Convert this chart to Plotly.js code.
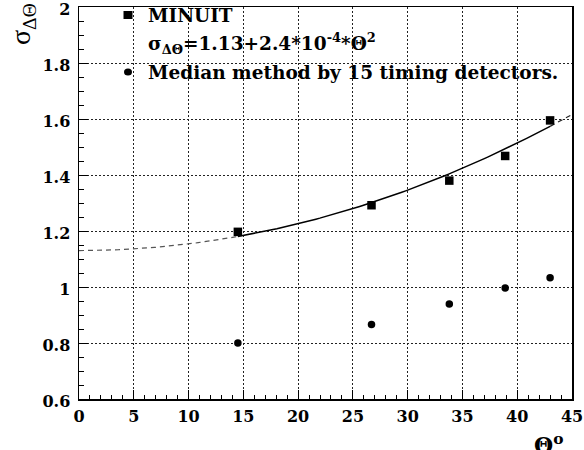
<!DOCTYPE html>
<html>
<head>
<meta charset="utf-8">
<script src="https://cdn.plot.ly/plotly-3.0.1.min.js"></script>
<style>html,body{margin:0;padding:0;background:#fff;}#chart{width:584px;height:450px;}</style>
</head>
<body>
<div id="chart"></div>
<script>
// ---- data ----
const thetaDeg     = [14.5, 26.7, 33.8, 38.9, 43.0];
const sigmaMinuit  = [1.197, 1.292, 1.380, 1.468, 1.595];
const sigmaMedian  = [0.800, 0.866, 0.939, 0.996, 1.033];
// fit shown in legend: sigma = p0 + p1*theta^2, solid over fitted range
const fitParams    = [1.13, 2.4e-4];
const fitRange     = [14.5, 43.0];
const xRange       = [0, 45];
const yRange       = [0.6, 2.0];
const xTickVals    = [0, 5, 10, 15, 20, 25, 30, 35, 40, 45];
const xTickText    = ['0','5','10','15','20','25','30','35','40','45'];
const yTickVals    = [0.6, 0.8, 1.0, 1.2, 1.4, 1.6, 1.8, 2.0];
const yTickText    = ['0.6','0.8','1','1.2','1.4','1.6','1.8','2'];
const legendLabels = ['MINUIT',
  'σ<sub>ΔΘ</sub>=1.13+2.4*10<sup>-4</sup>*Θ<sup>2</sup>',
  'Median method by 15 timing detectors.'];

function fitCurve(a, b, n) {
  const xs = [], ys = [];
  for (let i = 0; i <= n; i++) {
    const x = a + (b - a) * i / n;
    xs.push(x);
    ys.push(fitParams[0] + fitParams[1] * x * x);
  }
  return {xs, ys};
}
const fL = fitCurve(xRange[0], fitRange[0], 40);
const fM = fitCurve(fitRange[0], fitRange[1], 80);
const fR = fitCurve(fitRange[1], xRange[1], 10);

const traces = [
  {x: fL.xs, y: fL.ys, mode: 'lines', line: {color: '#555', width: 1.2, dash: '5px,4px'}, showlegend: false, hoverinfo: 'skip'},
  {x: fM.xs, y: fM.ys, mode: 'lines', line: {color: '#000', width: 1.5}, showlegend: false, hoverinfo: 'skip'},
  {x: fR.xs, y: fR.ys, mode: 'lines', line: {color: '#222', width: 1.2, dash: '5px,4px'}, showlegend: false, hoverinfo: 'skip'},
  {x: thetaDeg, y: sigmaMinuit, mode: 'markers', name: 'MINUIT', marker: {symbol: 'square', size: 8.5, color: '#000'}, showlegend: false},
  {x: thetaDeg, y: sigmaMedian, mode: 'markers', name: 'Median', marker: {symbol: 'circle', size: 7.5, color: '#000'}, showlegend: false}
];

const tickFont = {family: 'DejaVu Serif', size: 16, color: '#000', weight: 'bold'};
const legFont  = {family: 'DejaVu Serif', size: 18.5, color: '#000', weight: 'bold'};

const W = 584, H = 450, ml = 79, mr = 12, mt = 7, mb = 51;
const pw = W - ml - mr, ph = H - mt - mb;
const px = v => (v - ml) / pw;
const py = v => (H - mb - v) / ph;

const legendY = [15, 43, 72];
const annotations = legendLabels.map((t, i) => ({
  xref: 'paper', yref: 'paper', x: px(146), y: py(legendY[i]),
  xanchor: 'left', yanchor: 'middle', text: t, showarrow: false, font: legFont
}));
annotations.push({
  xref: 'paper', yref: 'paper', x: px(22), y: py(24), xanchor: 'center', yanchor: 'middle',
  text: 'σ<sub>ΔΘ</sub>', textangle: -90, showarrow: false,
  font: {family: 'Liberation Serif', size: 28, color: '#000'}
});
annotations.push({
  xref: 'paper', yref: 'paper', x: px(548), y: py(428), xanchor: 'center', yanchor: 'top',
  text: 'Θ<sup>o</sup>', showarrow: false,
  font: {family: 'DejaVu Serif', size: 22, color: '#000', weight: 'bold'}
});

const shapes = [
  {type: 'rect', xref: 'paper', yref: 'paper', xsizemode: 'pixel', ysizemode: 'pixel',
   xanchor: px(128), yanchor: py(legendY[0]), x0: -4.5, x1: 4.5, y0: -4, y1: 4,
   fillcolor: '#000', line: {width: 0}},
  {type: 'circle', xref: 'paper', yref: 'paper', xsizemode: 'pixel', ysizemode: 'pixel',
   xanchor: px(128), yanchor: py(legendY[2]), x0: -4, x1: 4, y0: -3.5, y1: 3.5,
   fillcolor: '#000', line: {width: 0}}
];

const gridCommon = {showgrid: true, gridcolor: '#222', griddash: '2px,2px', gridwidth: 1};

const layout = {
  width: W, height: H,
  margin: {l: ml, r: mr, t: mt, b: mb, pad: 0},
  paper_bgcolor: '#fff', plot_bgcolor: '#fff',
  showlegend: false,
  xaxis: Object.assign({
    range: xRange, tickmode: 'array', tickvals: xTickVals, ticktext: xTickText,
    ticks: 'inside', ticklen: 9, tickwidth: 1, tickcolor: '#000',
    minor: {dtick: 1, ticks: 'inside', ticklen: 4, tickcolor: '#000', showgrid: false},
    showline: true, linecolor: '#000', linewidth: 1.5, mirror: true,
    zeroline: false, tickfont: tickFont, ticklabelstandoff: 2, ticklabeloverflow: 'allow'
  }, gridCommon),
  yaxis: Object.assign({
    range: yRange, tickmode: 'array', tickvals: yTickVals, ticktext: yTickText,
    ticks: 'inside', ticklen: 9, tickwidth: 1, tickcolor: '#000',
    minor: {dtick: 0.05, ticks: 'inside', ticklen: 5, tickcolor: '#000', showgrid: false},
    showline: true, linecolor: '#000', linewidth: 1.5, mirror: true,
    zeroline: false, tickfont: tickFont, ticklabelstandoff: 4, ticklabelshift: 2,
    ticklabeloverflow: 'allow'
  }, gridCommon),
  annotations: annotations,
  shapes: shapes
};

Plotly.newPlot('chart', traces, layout, {staticPlot: true, displayModeBar: false});
</script>
</body>
</html>
